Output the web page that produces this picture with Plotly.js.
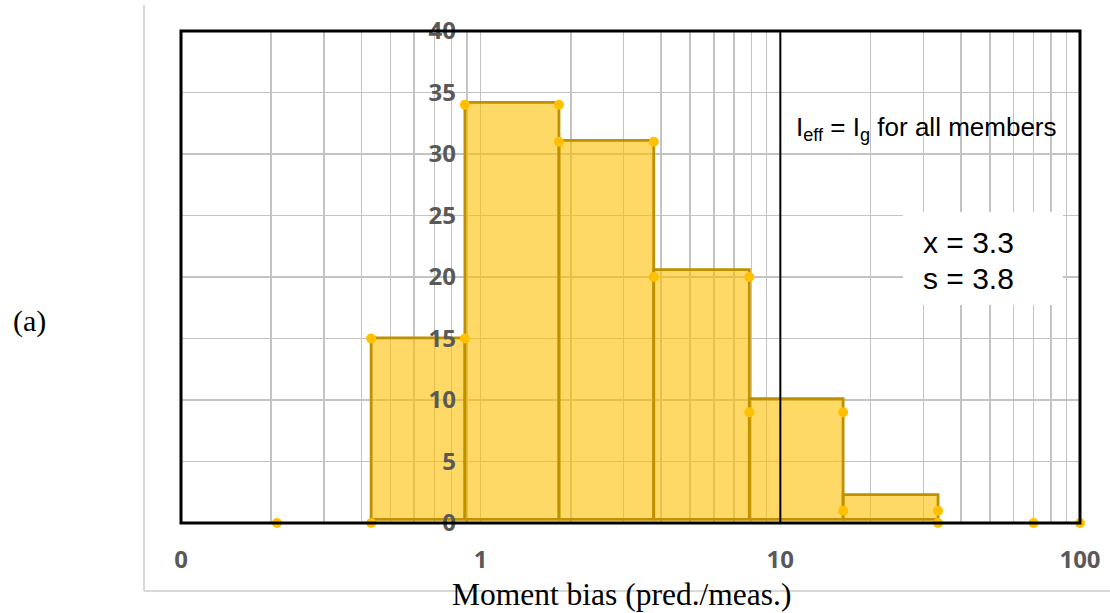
<!DOCTYPE html>
<html>
<head>
<meta charset="utf-8">
<script src="https://cdn.plot.ly/plotly-3.0.1.min.js"></script>
<style>html,body{margin:0;padding:0;background:#fff;}#chart{width:1110px;height:613px;}</style>
</head>
<body>
<div id="chart"></div>
<script>
// Histogram bins (moment bias, log scale)
var binEdges = [0.431, 0.886, 1.825, 3.78, 7.88, 16.2, 33.6];
var binCounts = [15.05, 34.2, 31.1, 20.6, 10.1, 2.3];
var binBase = 0.3;

// Frequency polygon points (markers)
var ptX = [0.209, 0.431, 0.431, 0.886, 0.886, 1.825, 1.825, 3.78, 3.78, 7.88, 7.88, 16.2, 16.2, 33.6, 33.6, 70, 100];
var ptY = [0, 0, 15, 15, 34, 34, 31, 31, 20, 20, 9, 9, 1, 1, 0, 0, 0];

// Axis ticks
var xMajorVals = [0.1, 1, 10, 100];
var xMajorText = ["0", "1", "10", "100"];
var yTickVals = [0, 5, 10, 15, 20, 25, 30, 35, 40];

var refLineX = 10;
var statLines = ["x = 3.3", "s = 3.8"];

// build grid tick list (all log minors)
var xGridVals = [], xGridText = [];
[0.1, 1, 10].forEach(function (d) {
  for (var k = 1; k <= 9; k++) {
    var v = +(d * k).toPrecision(3);
    xGridVals.push(v);
    var idx = xMajorVals.indexOf(v);
    xGridText.push(idx >= 0 ? xMajorText[idx] : "");
  }
});
xGridVals.push(100); xGridText.push("100");

var traces = [];
for (var i = 0; i < binCounts.length; i++) {
  var x0 = binEdges[i], x1 = binEdges[i + 1];
  traces.push({
    type: 'scatter', mode: 'lines',
    x: [x0, x0, x1, x1, x0],
    y: [binBase, binCounts[i], binCounts[i], binBase, binBase],
    fill: 'toself',
    fillcolor: 'rgba(255,192,0,0.6)',
    line: {color: 'rgb(191,144,0)', width: 2.8},
    hoverinfo: 'skip', showlegend: false
  });
}
traces.push({
  type: 'scatter', mode: 'markers',
  x: ptX, y: ptY,
  marker: {color: '#FFC000', size: 10},
  showlegend: false, cliponaxis: false
});

var L = 181, R = 30, T = 31, B = 90;
var W = 1110, H = 613;
var pw = W - L - R, ph = H - T - B;
function px(x) { return (x - L) / pw; }
function py(y) { return (H - B - y) / ph; }

var tickFont = {family: 'Open Sans, Liberation Sans, sans-serif', size: 24, color: '#595959', weight: 'bold'};
var sans = 'Liberation Sans, Arial, sans-serif';
var serif = 'Liberation Serif, Times New Roman, serif';

var layout = {
  width: W, height: H,
  margin: {l: L, r: R, t: T, b: B, pad: 0},
  paper_bgcolor: '#fff', plot_bgcolor: '#fff',
  showlegend: false,
  xaxis: {
    type: 'log', range: [-1, 2],
    tickmode: 'array', tickvals: xGridVals, ticktext: xGridText,
    showgrid: true, gridcolor: '#c3c3c3', gridwidth: 1.5,
    ticks: 'outside', ticklen: 15, tickcolor: 'rgba(0,0,0,0)',
    tickfont: tickFont,
    zeroline: false, showline: false
  },
  yaxis: {
    range: [0, 40], anchor: 'free', position: px(456),
    tickmode: 'array', tickvals: yTickVals,
    showgrid: true, gridcolor: '#c3c3c3', gridwidth: 1.5,
    ticks: '', tickfont: tickFont,
    zeroline: false, showline: false
  },
  shapes: [
    {type: 'line', xref: 'paper', yref: 'paper', x0: px(144), x1: px(144), y0: py(5), y1: py(591), line: {color: '#d9d9d9', width: 2}},
    {type: 'line', xref: 'paper', yref: 'paper', x0: px(144), x1: px(1110), y0: py(591), y1: py(591), line: {color: '#d9d9d9', width: 2}},
    {type: 'rect', xref: 'paper', yref: 'paper', x0: 0, x1: 1, y0: 0, y1: 1, line: {color: '#000', width: 3}, layer: 'above'},
    {type: 'line', xref: 'x', yref: 'paper', x0: refLineX, x1: refLineX, y0: 0, y1: 1, line: {color: '#000', width: 2}, layer: 'above'},
    {type: 'rect', xref: 'paper', yref: 'paper', x0: px(903), x1: px(1063), y0: py(305), y1: py(212), fillcolor: '#fff', line: {width: 0}, layer: 'above'}
  ],
  annotations: [
    {xref: 'paper', yref: 'paper', x: px(794), y: py(128), xanchor: 'left', yanchor: 'middle',
     text: 'I<sub>eff</sub> = I<sub>g</sub> for all members', showarrow: false,
     font: {family: sans, size: 26, color: '#000'}},
    {xref: 'paper', yref: 'paper', x: px(921), y: py(242), xanchor: 'left', yanchor: 'middle',
     text: statLines[0], showarrow: false, font: {family: sans, size: 30, color: '#000'}},
    {xref: 'paper', yref: 'paper', x: px(921), y: py(278), xanchor: 'left', yanchor: 'middle',
     text: statLines[1], showarrow: false, font: {family: sans, size: 30, color: '#000'}},
    {xref: 'paper', yref: 'paper', x: px(29), y: py(321), xanchor: 'center', yanchor: 'middle',
     text: '(a)', showarrow: false, font: {family: serif, size: 30, color: '#000'}},
    {xref: 'paper', yref: 'paper', x: px(621), y: py(594), xanchor: 'center', yanchor: 'middle',
     text: 'Moment bias (pred./meas.)', showarrow: false, font: {family: serif, size: 31.5, color: '#000'}}
  ]
};

Plotly.newPlot('chart', traces, layout, {displayModeBar: false, staticPlot: true});
</script>
</body>
</html>
